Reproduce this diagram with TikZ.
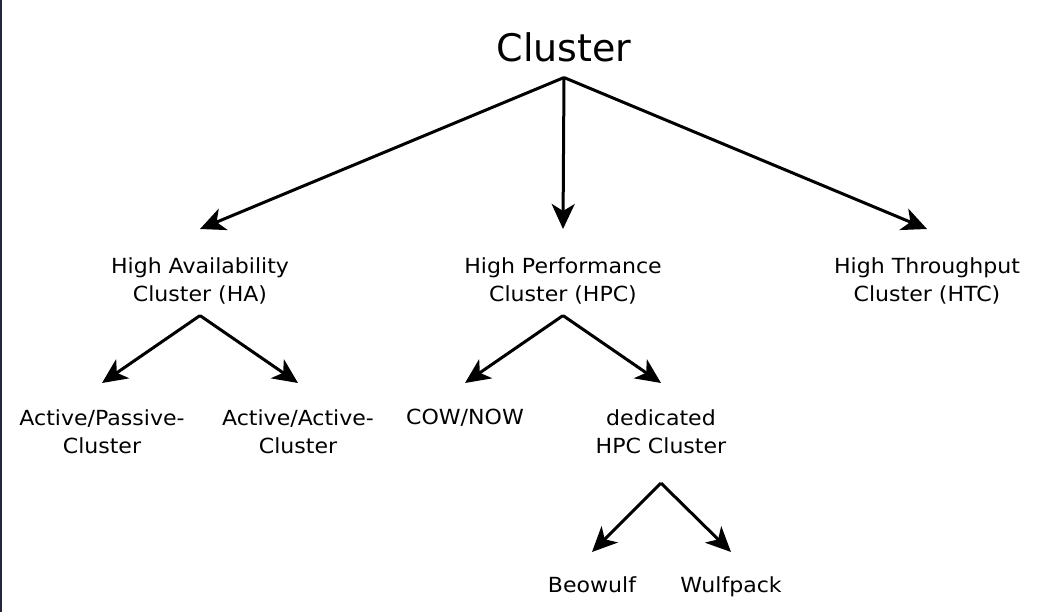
\documentclass[tikz,border=0pt]{standalone}
\usepackage{fontspec}
\setmainfont{DejaVu Sans}
\newfontfamily\lblfont[FakeStretch=1.06]{DejaVu Sans}
\usetikzlibrary{arrows.meta}
\definecolor{edgebar}{HTML}{26263A}
\begin{document}
\begin{tikzpicture}[x=1pt,y=-1pt,
  title/.style={font=\fontsize{38}{44}\selectfont, inner sep=0pt, outer sep=0pt},
  lbl/.style={font=\lblfont\fontsize{20.8}{28.5}\selectfont, align=center, inner sep=0pt, outer sep=0pt, anchor=north},
  arr/.style={line width=3pt, -{Stealth[length=25pt,width=23pt,inset=7pt]}}]
\useasboundingbox (0,0) rectangle (1039,612);
\fill[white] (0,0) rectangle (1039,612);
\fill[edgebar] (0,0) rectangle (2,612);
\node[title, anchor=base] (cluster) at (564,62) {Cluster};
\node[lbl] (ha) at (200,257.5) {High Availability\\Cluster (HA)};
\node[lbl] (hpc) at (563,257.5) {High Performance\\Cluster (HPC)};
\node[lbl] (htc) at (927,257.5) {High Throughput\\Cluster (HTC)};
\node[lbl] (ap) at (102,409.5) {Active/Passive-\\Cluster};
\node[lbl] (aa) at (298,409.5) {Active/Active-\\Cluster};
\node[lbl] (cow) at (465,409.5) {COW/NOW};
\node[lbl] (ded) at (661,409.5) {dedicated\\HPC Cluster};
\node[lbl] (beo) at (592,576.5) {Beowulf};
\node[lbl] (wulf) at (731,576.5) {Wulfpack};
\draw[arr] ([yshift=-15pt]cluster.south) -- ([yshift=28.5pt]ha.north);
\draw[arr] ([yshift=-15pt]cluster.south) -- ([yshift=28.5pt]hpc.north);
\draw[arr] ([yshift=-15pt]cluster.south) -- ([yshift=28.5pt]htc.north);
\draw[arr] ([yshift=-11pt]ha.south) -- ([yshift=26.5pt]ap.north);
\draw[arr] ([yshift=-11pt]ha.south) -- ([yshift=26.5pt]aa.north);
\draw[arr] ([yshift=-11pt]hpc.south) -- ([yshift=26.5pt]cow.north);
\draw[arr] ([yshift=-11pt]hpc.south) -- ([yshift=26.5pt]ded.north);
\draw[arr] ([yshift=-29pt]ded.south) -- ([yshift=24.5pt]beo.north);
\draw[arr] ([yshift=-29pt]ded.south) -- ([yshift=24.5pt]wulf.north);
\end{tikzpicture}
\end{document}
